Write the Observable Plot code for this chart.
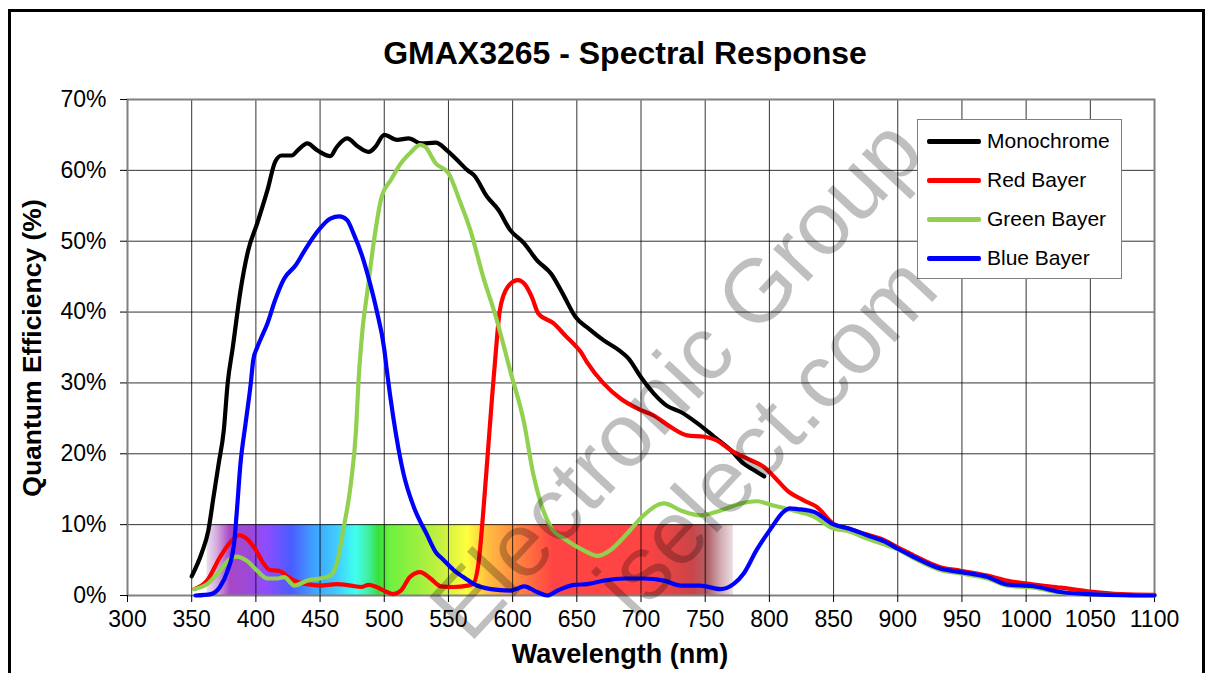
<!DOCTYPE html>
<html>
<head>
<meta charset="utf-8">
<script src="https://cdn.jsdelivr.net/npm/d3@7"></script>
<script src="https://cdn.jsdelivr.net/npm/@observablehq/plot@0.6"></script>
<style>
  body { margin: 0; background: #fff; font-family: "Liberation Sans", Arial, sans-serif; }
  #wrap { position: relative; width: 1210px; height: 673px; overflow: hidden; background: #fff; }
  #frame { position: absolute; left: 8px; top: 9px; width: 1197px; height: 720px; border: 3px solid #000; box-sizing: border-box; }
  #title { position: absolute; left: 0; top: 35px; width: 1250px; text-align: center; font-weight: bold; font-size: 32px; color: #000; }
  #ylab { position: absolute; left: 32px; top: 348px; transform: translate(-50%, -50%) rotate(-90deg); white-space: nowrap; font-weight: bold; font-size: 26.5px; }
  #xlab { position: absolute; left: 620px; top: 654px; transform: translate(-50%, -50%); white-space: nowrap; font-weight: bold; font-size: 27px; }
  #legend { position: absolute; left: 917px; top: 119px; width: 205px; height: 160px; border: 1.5px solid #808080; background: #fff; box-sizing: border-box; }
  .li { position: absolute; left: 9px; height: 24px; display: flex; align-items: center; font-size: 21px; }
  .li span.sw { display: inline-block; width: 54px; height: 5px; border-radius: 2px; margin-right: 6px; }
  #plot { position: absolute; left: 0; top: 0; }
  #wm { position: absolute; left: 0; top: 0; pointer-events: none; }
</style>
</head>
<body>
<div id="wrap">
  <div id="plot"></div>
  <div id="frame"></div>
  <div id="title">GMAX3265 - Spectral Response</div>
  <div id="ylab">Quantum Efficiency (%)</div>
  <div id="xlab">Wavelength (nm)</div>
  <div id="legend"></div>
  <svg id="wm" width="1210" height="673"></svg>
</div>
<script>
// ---- Data (wavelength in nm, QE in %) ----
const monoNm  = [350,358,363,367,371,375,378,382,388,394,401,409,415,420,428,433,440,448,458,463,471,480,488,493,500,510,519,529,540,549,556,565,570,580,589,598,609,619,630,639,649,659,671,683,690,700,710,720,731,744,757,770,780,788,796];
const monoQE  = [2.7,6.1,9.2,13.9,18.6,23.3,29.9,35.0,43.0,48.7,52.5,57.2,61.2,62.1,62.1,62.9,63.8,62.8,62.0,63.3,64.5,63.3,62.6,63.3,65.0,64.3,64.5,63.8,63.9,62.8,61.6,60.0,59.3,56.3,54.4,51.6,49.7,47.3,45.4,42.6,39.3,37.7,36.0,34.6,33.5,30.8,28.5,26.8,25.9,24.3,22.4,20.5,18.6,17.7,16.8];

const redNm   = [352,362,372,380,387,393,400,406,411,418,424,430,440,450,463,474,482,488,494,502,507,513,520,528,536,544,554,565,569,574,577,581,584,587,590,596,604,610,615,620,632,642,647,653,658,671,684,697,710,723,736,749,759,770,783,796,804,814,827,837,850,863,874,887,900,913,933,949,970,985,1006,1027,1048,1074,1100];
const redQE   = [0.9,2.1,5.4,7.5,8.5,8.0,6.4,4.5,3.6,3.5,2.8,2.1,1.6,1.4,1.6,1.4,1.2,1.5,1.2,0.5,0.2,0.7,2.6,3.3,2.4,1.3,1.2,1.4,1.6,5.4,11.5,20.9,28.0,34.6,40.2,43.5,44.5,43.8,42.1,39.8,38.4,36.5,35.6,34.4,32.9,29.9,27.8,26.4,25.4,23.8,22.6,22.4,21.9,20.5,19.3,18.1,16.7,14.8,13.4,12.5,10.1,9.4,8.7,8.0,6.8,5.6,4.0,3.5,2.8,2.1,1.55,1.1,0.6,0.2,0.1];

const greenNm = [352,362,372,380,385,393,401,409,417,422,430,440,450,458,463,468,474,478,480,483,487,492,498,505,513,520,528,532,540,550,559,567,577,587,594,598,609,616,622,630,642,655,666,676,689,702,718,731,746,762,778,790,803,814,835,848,863,875,888,900,913,933,949,970,985,1006,1027,1048,1100];
const greenQE = [0.9,1.6,3.5,5.2,5.5,4.9,3.5,2.4,2.4,2.6,1.4,2.1,2.4,2.8,4.5,9.2,15.8,23.3,30.4,37.4,43.1,50.1,56.3,58.6,61.0,62.4,63.6,63.3,61.0,59.6,55.6,51.6,45.0,39.3,34.6,31.8,24.3,17.2,13.0,9.6,7.8,6.4,5.6,6.4,8.7,11.3,13.0,12.0,11.3,12.0,13.0,13.3,12.7,12.2,11.1,9.6,9.0,8.1,7.3,6.5,5.2,3.6,3.1,2.4,1.4,1.1,0.4,0.15,0.0];

const blueNm  = [353,365,372,378,383,385,388,392,396,398,401,404,409,415,422,431,439,449,458,465,471,476,483,489,494,500,502,507,515,523,533,541,544,554,565,570,583,598,604,609,619,627,635,648,658,671,687,702,718,731,746,762,772,780,790,801,811,816,822,835,849,863,876,890,900,913,933,949,970,985,1006,1027,1048,1100];
const blueQE  = [0.0,0.2,1.2,3.5,7.3,11.5,18.6,24.3,29.9,33.3,35.0,36.3,38.4,41.7,44.7,46.6,49.0,51.6,53.2,53.5,53.0,51.1,47.8,44.0,40.3,34.8,31.8,25.2,17.2,12.5,8.7,5.9,5.4,3.6,2.2,1.6,0.9,0.7,1.0,1.3,0.5,0.0,0.7,1.5,1.6,2.1,2.4,2.4,2.1,1.4,1.4,0.9,1.6,3.1,6.4,9.4,11.8,12.3,12.2,11.8,10.1,9.4,8.5,7.6,6.6,5.4,3.8,3.3,2.6,1.55,1.3,0.5,0.2,0.0];

const seriesNames  = ["Monochrome", "Red Bayer", "Green Bayer", "Blue Bayer"];
const seriesColors = ["#000000", "#ff0000", "#92d050", "#0000ff"];

const xTicks = [300,350,400,450,500,550,600,650,700,750,800,850,900,950,1000,1050,1100];
const yTicks = [0,10,20,30,40,50,60,70];

// visible-spectrum band (nm range and QE height) with its colour stops
const bandRange = [362, 772];
const bandTop = 10;
const bandStopNm    = [362,370,380,395,408,428,445,462,478,488,496,505,525,545,565,580,600,620,632,700,720,740,752,762,772];
const bandStopColor = ["#ecdff0","#d4aadc","#a848c8","#9c48d8","#8f4cff","#4a5cff","#40a0ff","#40c8ff","#40fff0","#40f0a0","#38e038","#70f040","#98f040","#c8f040","#ffff40","#ffc040","#ff9040","#ff6040","#ff4444","#ff4444","#e84444","#cc4448","#b06068","#d0a8b0","#ece0e2"];

// ---- Build table ----
const nmArrays = [monoNm, redNm, greenNm, blueNm];
const qeArrays = [monoQE, redQE, greenQE, blueQE];
const rows = [];
seriesNames.forEach((s, i) => nmArrays[i].forEach((nm, j) => rows.push({series: s, nm, qe: qeArrays[i][j]})));

const marks = [
  Plot.rect([{x1: bandRange[0], x2: bandRange[1], y1: 0, y2: bandTop}], {x1: "x1", x2: "x2", y1: "y1", y2: "y2", fill: "url(#rainbow)"}),
  Plot.gridX(xTicks, {stroke: "#000", strokeOpacity: 0.8, strokeWidth: 1}),
  Plot.gridY(yTicks, {stroke: "#000", strokeOpacity: 0.8, strokeWidth: 1}),
  Plot.frame({stroke: "#808080", strokeWidth: 2}),
  Plot.axisX(xTicks, {tickSize: 7, tickPadding: 8, tickFormat: d => String(d), label: null, stroke: "#000"}),
  Plot.axisY(yTicks, {tickSize: 7, tickPadding: 14, tickFormat: d => d + "%", label: null, stroke: "#000"}),
];
seriesNames.forEach((s, i) => {
  marks.push(Plot.line(rows.filter(r => r.series === s), {x: "nm", y: "qe", stroke: seriesColors[i], strokeWidth: 4.2, curve: "monotone-x", strokeLinejoin: "round", strokeLinecap: "round"}));
});

const chart = Plot.plot({
  width: 1210, height: 673,
  marginLeft: 127, marginRight: 56, marginTop: 99, marginBottom: 78,
  style: {fontFamily: "'Liberation Sans', Arial, sans-serif", fontSize: "23px", color: "#000", background: "transparent", overflow: "visible"},
  x: {domain: [300, 1100]},
  y: {domain: [0, 70]},
  marks
});

// gradient definition for the spectrum band
const svg = d3.select(chart);
const grad = svg.insert("defs", ":first-child").append("linearGradient").attr("id", "rainbow").attr("x1", 0).attr("x2", 1).attr("y1", 0).attr("y2", 0);
bandStopNm.forEach((nm, i) => {
  grad.append("stop").attr("offset", (nm - bandRange[0]) / (bandRange[1] - bandRange[0])).attr("stop-color", bandStopColor[i]);
});
document.getElementById("plot").appendChild(chart);

// legend
const leg = document.getElementById("legend");
seriesNames.forEach((s, i) => {
  const d = document.createElement("div");
  d.className = "li";
  d.style.top = (9 + i * 39) + "px";
  d.innerHTML = `<span class="sw" style="background:${seriesColors[i]}"></span>${s}`;
  leg.appendChild(d);
});

// watermark
const wm = d3.select("#wm");
const wmTexts = [
  {t: "Electronic Group", x: 675, y: 378, a: -47, s: 90},
  {t: "iselect.com", x: 765, y: 435, a: -47, s: 90}
];
wmTexts.forEach(w => {
  wm.append("text").attr("transform", `translate(${w.x},${w.y}) rotate(${w.a})`)
    .attr("text-anchor", "middle").attr("dy", "0.35em")
    .attr("font-family", "'Liberation Sans', Arial, sans-serif").attr("font-size", w.s)
    .attr("fill", "#000").attr("fill-opacity", 0.25).text(w.t);
});
</script>
</body>
</html>
